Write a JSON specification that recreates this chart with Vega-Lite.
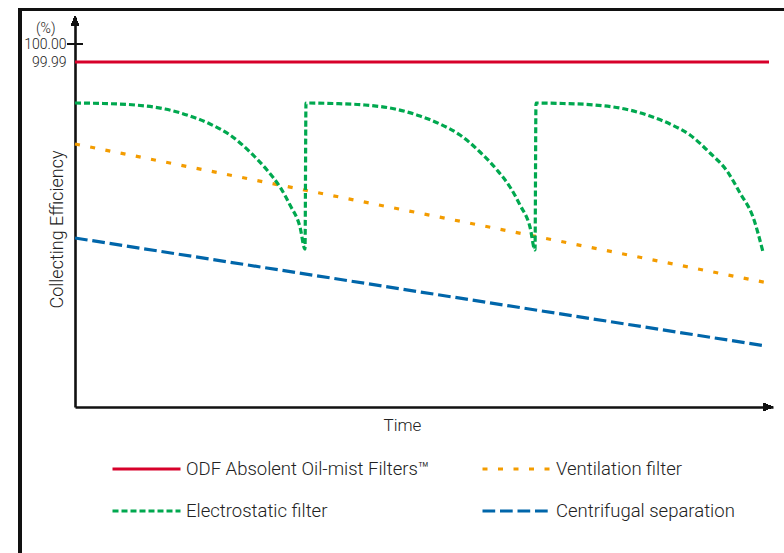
{
  "$schema": "https://vega.github.io/schema/vega-lite/v6.json",
  "width": 698,
  "height": 390,
  "autosize": "none",
  "padding": {"left": 75, "top": 17, "right": 11, "bottom": 146},
  "config": {"view": {"stroke": null}, "font": "Roboto"},
  "data": {
    "values": [
      {"series": "ODF Absolent Oil-mist Filters™", "t": 0, "v": 345},
      {"series": "ODF Absolent Oil-mist Filters™", "t": 694, "v": 345},
      {"series": "Ventilation filter", "t": 0, "v": 263},
      {"series": "Ventilation filter", "t": 693, "v": 124},
      {"series": "Centrifugal separation", "t": 0, "v": 169},
      {"series": "Centrifugal separation", "t": 691, "v": 61},
      {"series": "Electrostatic filter", "t": 0, "v": 304},
      {"series": "Electrostatic filter", "t": 28, "v": 303.5},
      {"series": "Electrostatic filter", "t": 60, "v": 302},
      {"series": "Electrostatic filter", "t": 90, "v": 298},
      {"series": "Electrostatic filter", "t": 115, "v": 291},
      {"series": "Electrostatic filter", "t": 135, "v": 283},
      {"series": "Electrostatic filter", "t": 155, "v": 272},
      {"series": "Electrostatic filter", "t": 175, "v": 255},
      {"series": "Electrostatic filter", "t": 192, "v": 237},
      {"series": "Electrostatic filter", "t": 205, "v": 220},
      {"series": "Electrostatic filter", "t": 215, "v": 202},
      {"series": "Electrostatic filter", "t": 225, "v": 180},
      {"series": "Electrostatic filter", "t": 230, "v": 158},
      {"series": "Electrostatic filter", "t": 231, "v": 304},
      {"series": "Electrostatic filter", "t": 258, "v": 303.5},
      {"series": "Electrostatic filter", "t": 290, "v": 302},
      {"series": "Electrostatic filter", "t": 320, "v": 298},
      {"series": "Electrostatic filter", "t": 345, "v": 291},
      {"series": "Electrostatic filter", "t": 365, "v": 283},
      {"series": "Electrostatic filter", "t": 385, "v": 272},
      {"series": "Electrostatic filter", "t": 405, "v": 255},
      {"series": "Electrostatic filter", "t": 422, "v": 237},
      {"series": "Electrostatic filter", "t": 435, "v": 220},
      {"series": "Electrostatic filter", "t": 445, "v": 202},
      {"series": "Electrostatic filter", "t": 455, "v": 180},
      {"series": "Electrostatic filter", "t": 460, "v": 157},
      {"series": "Electrostatic filter", "t": 461, "v": 304},
      {"series": "Electrostatic filter", "t": 488, "v": 303.5},
      {"series": "Electrostatic filter", "t": 520, "v": 302},
      {"series": "Electrostatic filter", "t": 550, "v": 298},
      {"series": "Electrostatic filter", "t": 575, "v": 291},
      {"series": "Electrostatic filter", "t": 595, "v": 283},
      {"series": "Electrostatic filter", "t": 615, "v": 272},
      {"series": "Electrostatic filter", "t": 635, "v": 254},
      {"series": "Electrostatic filter", "t": 652, "v": 236},
      {"series": "Electrostatic filter", "t": 665, "v": 214},
      {"series": "Electrostatic filter", "t": 678, "v": 190},
      {"series": "Electrostatic filter", "t": 688, "v": 155}
    ]
  },
  "layer": [
    {
      "mark": {"type": "rect", "filled": false, "stroke": "#111111", "strokeWidth": 2.6},
      "encoding": {
        "x": {"datum": -55, "type": "quantitative", "scale": {"domain": [0, 698], "nice": false, "zero": false}},
        "x2": {"datum": 900},
        "y": {"datum": 397.3, "type": "quantitative", "scale": {"domain": [0, 390], "nice": false, "zero": false}},
        "y2": {"datum": -300}
      }
    },
    {
      "mark": {"type": "line", "interpolate": "monotone", "strokeWidth": 3.2},
      "encoding": {
        "x": {
          "field": "t",
          "type": "quantitative",
          "scale": {"domain": [0, 698], "nice": false, "zero": false},
          "axis": {
            "title": "Time",
            "labels": false,
            "ticks": false,
            "grid": false,
            "domainColor": "#111111",
            "domainWidth": 2.6,
            "titleFont": "Roboto",
            "titleFontWeight": 300,
            "titleFontSize": 17,
            "titleColor": "#222222",
            "titleX": 327,
            "titleY": 18,
            "titleBaseline": "middle"
          }
        },
        "y": {
          "field": "v",
          "type": "quantitative",
          "scale": {"domain": [0, 390], "nice": false, "zero": false},
          "axis": {
            "title": "Collecting Efficiency",
            "values": [379, 363, 345],
            "labelExpr": "datum.value == 379 ? '(%)' : datum.value == 363 ? '100.00' : '99.99'",
            "ticks": false,
            "grid": false,
            "labelPadding": {"condition": {"test": "datum.value == 379", "value": 20}, "value": 9},
            "labelFont": "Roboto",
            "labelFontWeight": 300,
            "labelFontSize": 14,
            "labelColor": "#222222",
            "domainColor": "#111111",
            "domainWidth": 2.6,
            "titleFont": "Roboto",
            "titleFontWeight": 300,
            "titleFontSize": 18,
            "titleColor": "#222222",
            "titleX": -18,
            "titleY": 212,
            "titleAngle": -90,
            "titleAlign": "center",
            "titleBaseline": "middle"
          }
        },
        "color": {
          "field": "series",
          "type": "nominal",
          "scale": {
            "domain": ["ODF Absolent Oil-mist Filters™", "Electrostatic filter", "Ventilation filter", "Centrifugal separation"],
            "range": ["#d7002a", "#00a84f", "#f39c00", "#0066aa"]
          },
          "legend": {
            "orient": "none",
            "legendX": 36,
            "legendY": 435,
            "columns": 2,
            "title": null,
            "symbolType": "stroke",
            "symbolSize": 4624,
            "symbolStrokeWidth": 3,
            "labelFont": "Roboto",
            "labelFontWeight": 300,
            "labelFontSize": 18.5,
            "labelColor": "#222222",
            "labelOffset": 4,
            "labelLimit": 500,
            "clipHeight": 34,
            "columnPadding": 51,
            "rowPadding": 8,
            "padding": 0
          }
        },
        "strokeDash": {
          "field": "series",
          "type": "nominal",
          "scale": {
            "domain": ["ODF Absolent Oil-mist Filters™", "Electrostatic filter", "Ventilation filter", "Centrifugal separation"],
            "range": [[1, 0], [6, 3], [5, 10.5], [12.7, 4.8]]
          }
        }
      }
    },
    {
      "mark": {"type": "tick", "orient": "horizontal", "size": 15, "thickness": 2, "color": "#111111"},
      "encoding": {
        "x": {"datum": 0, "type": "quantitative"},
        "y": {"datum": 363, "type": "quantitative"}
      }
    },
    {
      "mark": {"type": "point", "shape": "M0,-1L0.8,1L-0.8,1Z", "filled": true, "color": "#111111", "opacity": 1, "size": 100},
      "encoding": {
        "x": {"datum": 0, "type": "quantitative"},
        "y": {"datum": 386, "type": "quantitative"}
      }
    },
    {
      "mark": {"type": "point", "shape": "M1,0L-1,-0.8L-1,0.8Z", "filled": true, "color": "#111111", "opacity": 1, "size": 100},
      "encoding": {
        "x": {"datum": 693, "type": "quantitative"},
        "y": {"datum": 0, "type": "quantitative"}
      }
    }
  ]
}
